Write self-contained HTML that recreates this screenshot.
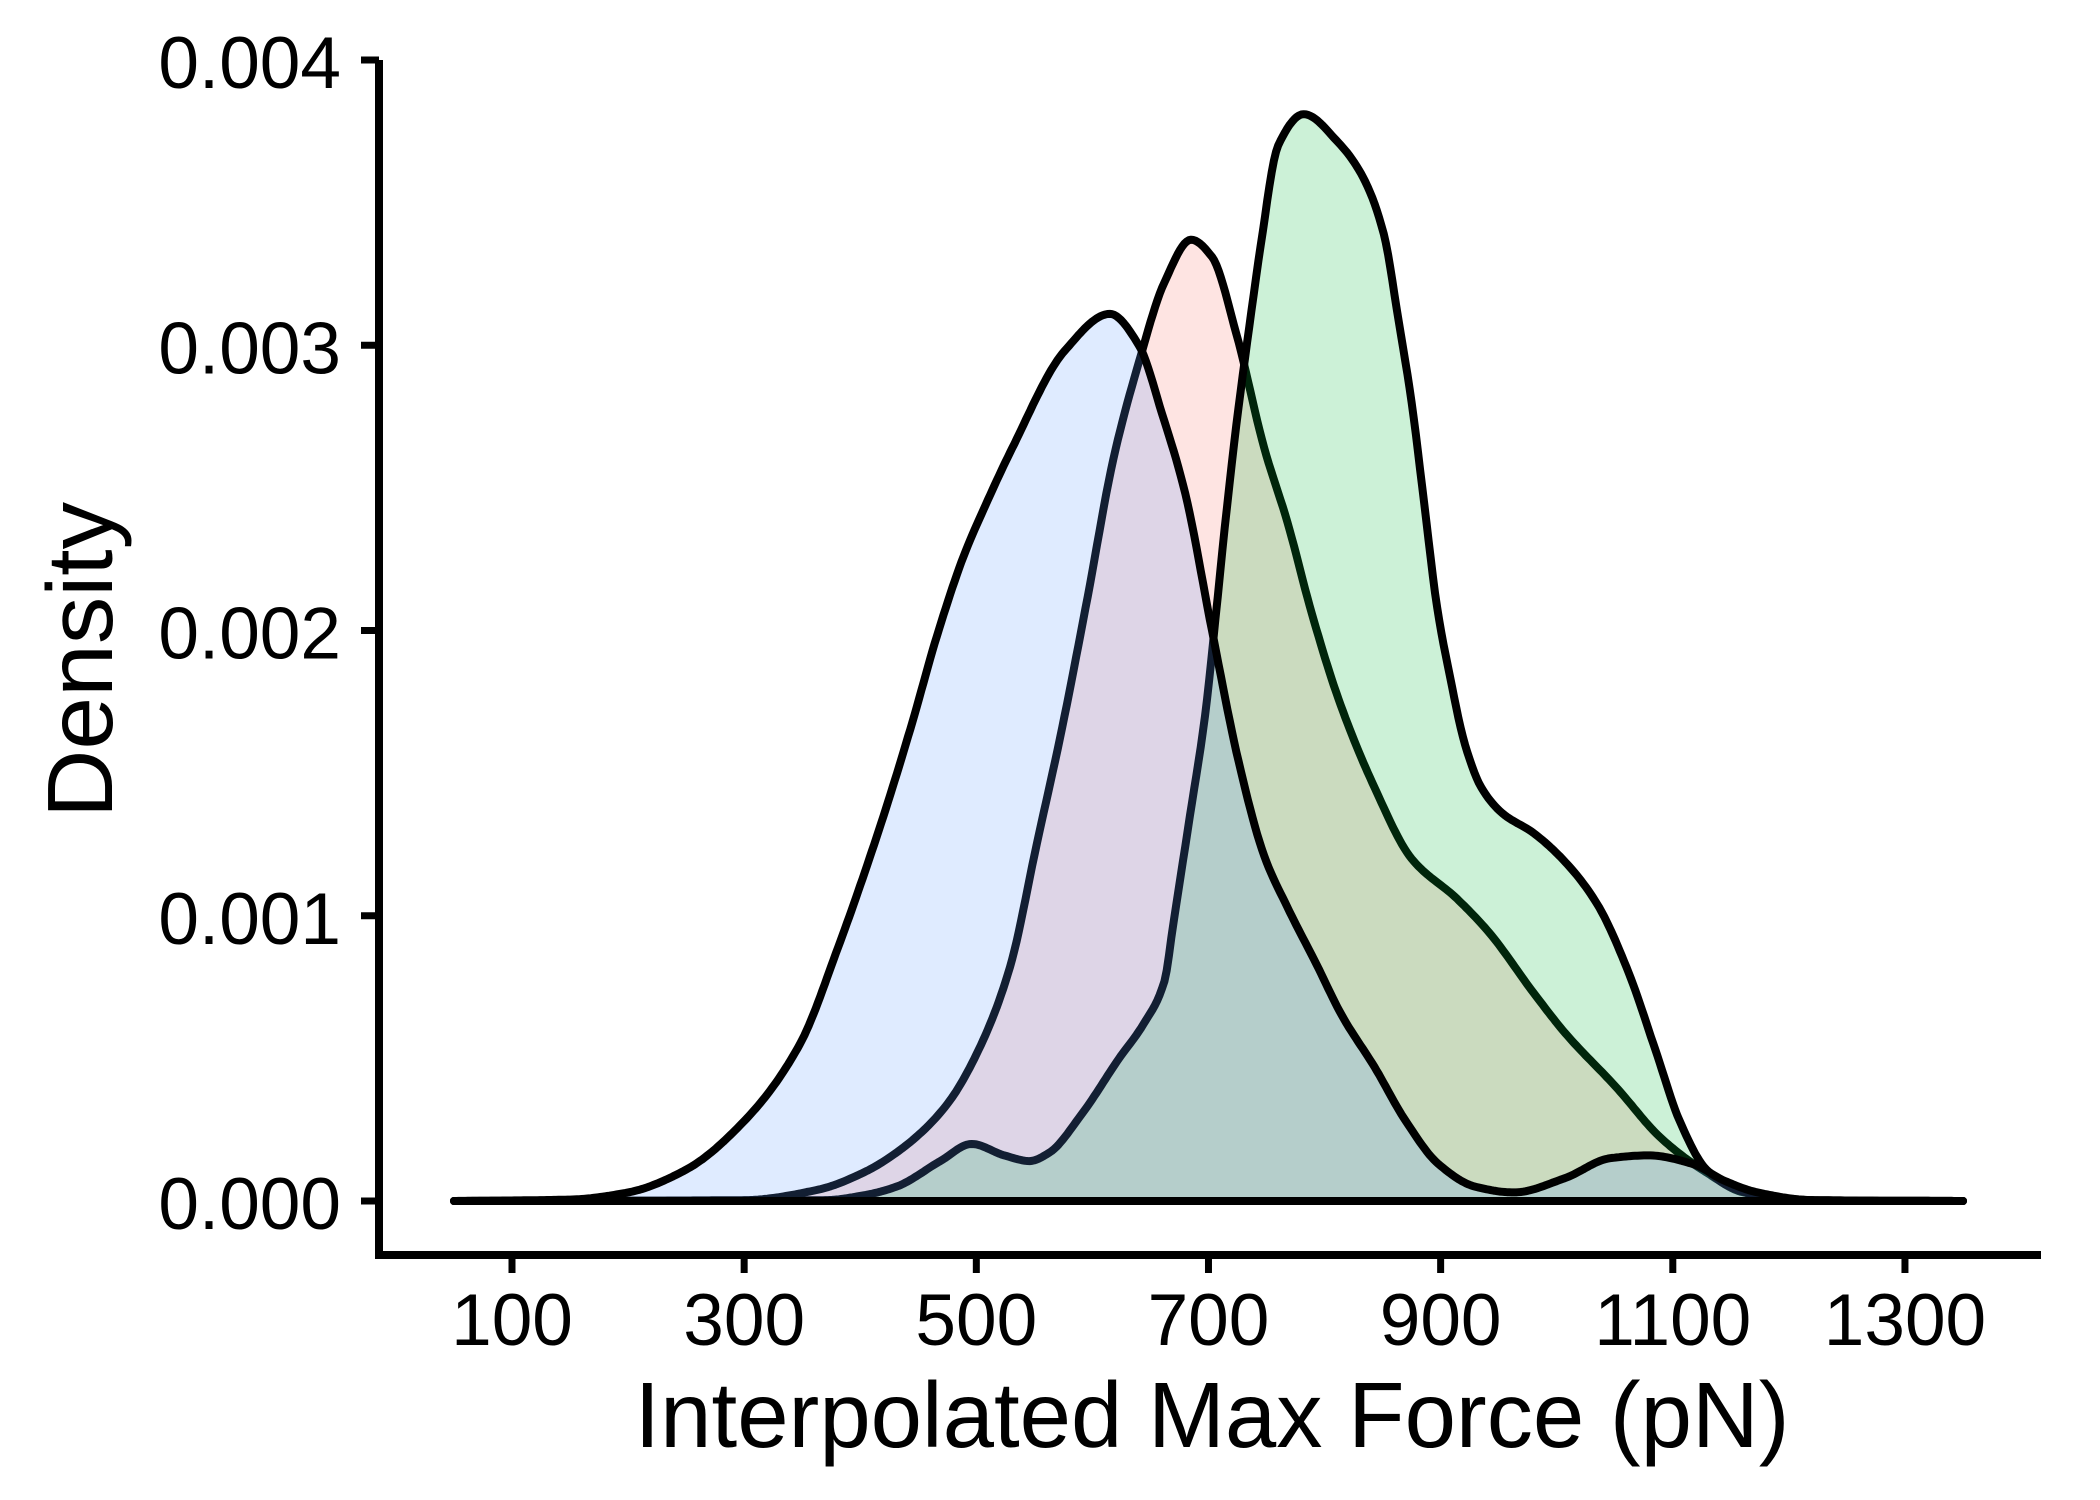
<!DOCTYPE html>
<html><head><meta charset="utf-8"><style>
html,body{margin:0;padding:0;background:#fff}
svg{display:block}
text{font-family:"Liberation Sans",sans-serif;fill:#000}
</style></head><body>
<svg id="chart" width="2100" height="1500" viewBox="0 0 2100 1500" xmlns="http://www.w3.org/2000/svg">
<g id="plot"></g>
<g id="axes"></g>
</svg>
<script>
const xTicks = [100,300,500,700,900,1100,1300];
const yTicks = [0,0.001,0.002,0.003,0.004];
const yTickLabels = ["0.000","0.001","0.002","0.003","0.004"];
const redX = [50,300,364,403,441,475,502,529,552,574,596,618,640,662,685,703,724,748,768,789,812,843,875,914,942,980,1007,1051,1090,1129,1161,1220,1350];
const redY = [0,0.000003,0.00004,0.0001,0.0002,0.00034,0.00053,0.00082,0.00125,0.00166,0.00212,0.0026,0.00294,0.00322,0.00337,0.00331,0.00304,0.00264,0.00238,0.00206,0.00176,0.00145,0.0012,0.00106,0.00094,0.00073,0.00059,0.0004,0.00022,0.0001,0.00003,0.000003,0];
const greenX = [50,370,403,431,469,496,524,546,563,590,623,644,662,670,684,697,706,714,724,737,745,760,782,812,833,851,864,875,886,897,908,921,935,953,980,1007,1035,1062,1085,1106,1129,1155,1189,1250,1350];
const greenY = [0,0.000003,0.00002,0.00005,0.00014,0.0002,0.00016,0.00014,0.00017,0.0003,0.0005,0.00062,0.00077,0.00098,0.00135,0.0017,0.00204,0.00236,0.00272,0.00312,0.00335,0.0037,0.00381,0.00371,0.00359,0.00339,0.00308,0.0028,0.00244,0.00208,0.00184,0.0016,0.00145,0.00136,0.00129,0.00119,0.00104,0.0008,0.00053,0.00028,0.00011,0.00004,0.00001,0,0];
const blueX = [50,150,200,250,300,348,381,402,424,445,466,489,508,531,576,615,640,660,680,703,726,748,768,793,815,843,870,898,930,963,1007,1046,1079,1117,1145,1173,1220,1350];
const blueY = [0,0.000005,0.00003,0.00011,0.00028,0.00055,0.00089,0.00113,0.0014,0.00168,0.00198,0.00226,0.00244,0.00264,0.00298,0.00311,0.003,0.00276,0.00248,0.002,0.00154,0.00121,0.00103,0.00083,0.00065,0.00047,0.00028,0.00013,0.00005,0.00003,0.00008,0.00015,0.00016,0.00013,0.00007,0.00003,0.000003,0];
const seriesNames = ["red","green","blue"];
const seriesX = [redX, greenX, blueX];
const seriesY = [redY, greenY, blueY];
const fills = ["rgba(248,118,109,0.2)","rgba(0,186,56,0.2)","rgba(97,156,255,0.2)"];

const NS="http://www.w3.org/2000/svg";
const sx = v => 512 + (v-100)*1.1608;
const sy = v => 1201 - v*285250;

function mk(tag, attrs, parent){const e=document.createElementNS(NS,tag);for(const k in attrs)e.setAttribute(k,attrs[k]);parent.appendChild(e);return e;}
function monoPts(xs, ys){
  const n=xs.length, d=[], m=new Array(n);
  for(let i=0;i<n-1;i++) d.push((ys[i+1]-ys[i])/(xs[i+1]-xs[i]));
  m[0]=d[0]; m[n-1]=d[n-2];
  for(let i=1;i<n-1;i++){
    if(d[i-1]*d[i]<=0) m[i]=0;
    else { const w1=2*(xs[i+1]-xs[i])+(xs[i]-xs[i-1]), w2=(xs[i+1]-xs[i])+2*(xs[i]-xs[i-1]); m[i]=(w1+w2)/(w1/d[i-1]+w2/d[i]); }
  }
  const out=[];
  for(let i=0;i<n-1;i++){
    const h=xs[i+1]-xs[i], steps=Math.max(2,Math.ceil(h/2));
    for(let k=0;k<steps;k++){
      const t=k/steps, t2=t*t, t3=t2*t;
      const y=(2*t3-3*t2+1)*ys[i]+(t3-2*t2+t)*h*m[i]+(-2*t3+3*t2)*ys[i+1]+(t3-t2)*h*m[i+1];
      out.push([sx(xs[i]+t*h), sy(Math.max(0,y))]);
    }
  }
  out.push([sx(xs[n-1]), sy(ys[n-1])]);
  return out;
}
const plot=document.getElementById('plot');
for(let s=0;s<3;s++){
  const pts=monoPts(seriesX[s], seriesY[s]);
  const d='M'+pts.map(p=>p[0].toFixed(1)+','+p[1].toFixed(1)).join(' L');
  const area=mk('path',{d:d+` L${sx(seriesX[s][seriesX[s].length-1])},${sy(0)} L${sx(seriesX[s][0])},${sy(0)} Z`,fill:fills[s],stroke:'none'},plot);
  
  
  const line=mk('path',{d:d,fill:'none',stroke:'#000','stroke-width':8,'stroke-linejoin':'round','stroke-linecap':'round'},plot);
  
  
}
const base=mk('line',{x1:sx(50),x2:sx(1350),y1:sy(0),y2:sy(0),stroke:'#000','stroke-width':8,'stroke-linecap':'round'},plot);



const axes=document.getElementById('axes');
const ya=mk('line',{x1:379,x2:379,y1:60,y2:1259,stroke:'#000','stroke-width':8},axes);


const xa=mk('line',{x1:375,x2:2041,y1:1255,y2:1255,stroke:'#000','stroke-width':8},axes);


yTicks.forEach((v,i)=>{
  const t=mk('line',{x1:361,x2:379,y1:sy(v),y2:sy(v),stroke:'#000','stroke-width':7},axes);
  
  
  const l=mk('text',{x:341,y:sy(v)+28,'text-anchor':'end','font-size':73},axes);
  l.textContent=yTickLabels[i];
  
  
});
xTicks.forEach(v=>{
  const t=mk('line',{x1:sx(v),x2:sx(v),y1:1255,y2:1273,stroke:'#000','stroke-width':7},axes);
  
  
  const l=mk('text',{x:sx(v),y:1345,'text-anchor':'middle','font-size':73},axes);
  l.textContent=v;
  
  
});
const xt=mk('text',{x:1212,y:1447,'text-anchor':'middle','font-size':93,textLength:1155,lengthAdjust:'spacingAndGlyphs'},axes);
xt.textContent='Interpolated Max Force (pN)';


const yt=mk('text',{x:0,y:0,'text-anchor':'middle','font-size':93,textLength:316,lengthAdjust:'spacingAndGlyphs',transform:'translate(112,660) rotate(-90)'},axes);
yt.textContent='Density';


</script>
</body></html>
